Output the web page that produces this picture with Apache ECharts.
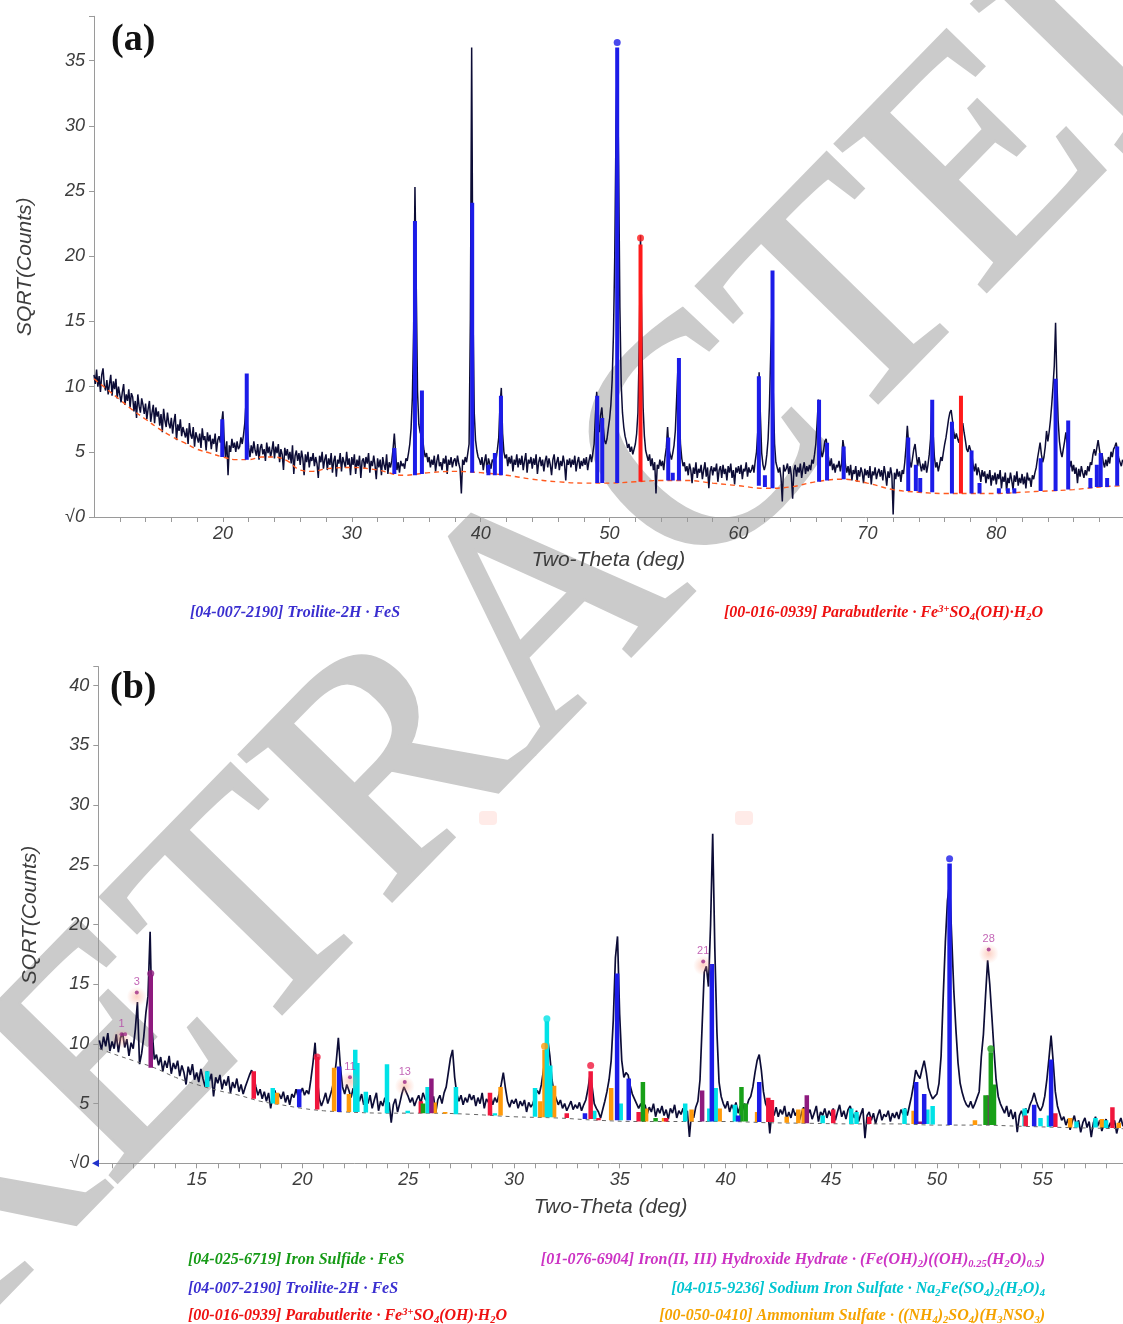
<!DOCTYPE html>
<html>
<head>
<meta charset="utf-8">
<script src="https://cdn.jsdelivr.net/npm/echarts@6/dist/echarts.min.js"></script>
<style>
  html, body { margin: 0; padding: 0; background: #fff; }
  #chart { width: 1123px; height: 1324px; }
</style>
</head>
<body>
<div id="chart"></div>
<script>
// ---------- panel (a) ----------
// measured trace, sqrt(counts), one value every 0.1 deg from 10.0
const traceAStart = 10.0;
const traceAStep = 0.1;
const traceA = [
  10.9, 10.2, 11.3, 10.0, 10.8, 9.6, 10.9, 11.4, 10.1, 9.7,
  10.5, 9.4, 10.2, 10.9, 9.3, 10.4, 9.8, 10.6, 9.1, 10.0,
  9.9, 8.8, 9.6, 10.2, 8.6, 9.4, 8.9, 9.8, 8.4, 9.5,
  9.2, 8.1, 8.9, 7.6, 9.4, 8.5, 8.0, 9.1, 8.6, 7.9,
  8.7, 7.5, 8.3, 8.9, 7.3, 8.0, 8.6, 7.2, 8.4, 7.7,
  8.1, 7.0, 7.9, 6.5, 8.3, 7.4, 6.9, 8.0, 7.2, 6.8,
  7.6, 6.4, 7.3, 7.9, 5.9, 7.1, 6.6, 7.5, 6.2, 6.9,
  7.0, 6.1, 6.8, 5.6, 7.2, 6.3, 6.0, 6.9, 5.4, 6.5,
  6.6, 5.7, 6.4, 5.3, 6.8, 5.9, 6.2, 5.1, 6.5, 5.8,
  6.3, 5.2, 6.0, 5.6, 6.4, 5.0, 5.9, 6.2, 5.7, 7.2,
  8.1, 5.9, 4.6, 5.8, 3.2, 5.5, 5.0, 6.0, 5.3, 5.7,
  5.0, 5.8, 5.2, 5.4, 6.1, 5.6, 6.3, 7.2, 8.9, 7.0,
  5.3, 4.6, 5.5, 4.9, 5.8, 5.1, 4.7, 5.6, 4.4, 5.3,
  5.6, 4.8, 5.2, 4.3, 5.7, 4.9, 5.4, 4.6, 5.1, 5.8,
  4.5, 5.4, 4.9, 5.6, 4.2, 5.2, 4.8, 3.6, 5.3, 4.7,
  5.2, 4.4, 5.0, 4.1, 5.5, 3.3, 4.7, 5.1, 4.3, 4.9,
  4.0, 5.1, 4.5, 3.2, 4.8, 4.2, 5.0, 3.8, 4.6, 4.3,
  4.9, 3.9, 4.6, 4.1, 3.0, 4.7, 4.2, 5.0, 3.7, 4.4,
  4.8, 3.6, 4.5, 4.0, 4.9, 3.4, 4.3, 4.7, 3.1, 4.4,
  4.1, 4.9, 3.5, 4.6, 4.2, 3.8, 5.0, 4.0, 4.5, 3.2,
  4.6, 4.0, 4.8, 3.3, 4.4, 3.9, 4.7, 3.0, 4.3, 4.5,
  3.7, 4.6, 4.1, 4.9, 3.4, 4.3, 3.9, 4.7, 4.0, 2.9,
  4.5, 3.8, 4.4, 3.2, 4.6, 4.0, 3.6, 4.8, 3.3, 4.2,
  3.8, 4.3, 5.2, 6.4, 4.9, 3.6, 4.2, 3.4, 4.3, 3.9,
  4.1, 3.7, 4.5, 4.3, 4.9, 5.6, 6.8, 9.2, 14.5, 25.3,
  17.8, 9.6, 7.1, 6.5, 6.5, 6.0, 5.1, 4.6, 4.9, 4.2,
  4.6, 3.8, 4.4, 4.0, 4.7, 3.5, 4.3, 4.8, 3.9, 4.2,
  3.6, 4.5, 4.1, 4.7, 3.3, 4.4, 4.0, 4.6, 3.8, 4.3,
  4.5, 3.9, 4.7, 4.1, 3.7, 1.8, 4.4, 4.0, 4.6, 4.2,
  4.9, 5.6, 15.2, 36.0, 16.0, 8.0, 5.9, 5.1, 4.6, 4.4,
  4.0, 4.6, 3.6, 4.3, 4.8, 3.4, 4.5, 4.1, 3.7, 4.4,
  4.2, 4.9, 4.5, 5.2, 6.1, 8.6, 9.9, 6.4, 5.0, 4.5,
  4.8, 3.9, 4.6, 4.1, 4.7, 3.5, 4.4, 4.0, 4.8, 3.8,
  4.5, 4.0, 4.7, 3.6, 4.3, 4.9, 3.4, 4.4, 4.1, 4.6,
  3.7, 4.5, 4.0, 4.8, 3.3, 4.2, 4.6, 3.9, 4.4, 3.5,
  4.3, 4.7, 3.8, 4.5, 4.0, 3.2, 4.4, 4.8, 3.7, 4.2,
  4.6, 3.6, 4.3, 3.9, 4.7, 4.1, 2.8, 4.4, 4.0, 4.5,
  3.8, 4.4, 4.0, 4.7, 3.5, 4.2, 4.6, 3.7, 4.3, 3.9,
  4.5, 4.0, 4.6, 3.6, 4.3, 4.8, 4.2, 4.9, 5.6, 7.8,
  9.6, 7.2, 6.5, 7.8, 8.4, 7.0, 5.9, 5.6, 6.0, 6.8,
  7.5, 8.6, 10.5, 14.0, 20.0, 30.0, 35.6, 27.0, 16.0, 10.2,
  8.0, 6.9, 6.2, 5.8, 5.3, 5.6, 5.0, 5.4, 4.8, 5.2,
  5.6, 6.4, 8.0, 13.0, 21.6, 14.0, 8.4, 6.2, 5.1, 4.7,
  4.3, 4.8, 3.9, 4.5, 3.6, 4.2, 1.8, 4.0, 3.7, 4.4,
  3.9, 4.3, 3.6, 4.6, 5.3, 6.9, 5.2, 4.8, 4.4, 4.9,
  5.5, 6.6, 9.0, 11.4, 8.2, 5.6, 4.5, 3.9, 4.2, 3.5,
  3.9, 3.2, 4.1, 3.6, 2.6, 3.8, 3.3, 4.2, 3.0, 3.7,
  3.4, 4.0, 2.9, 3.6, 4.2, 3.1, 3.8, 2.2, 3.5, 3.9,
  3.2, 3.8, 3.5, 4.1, 2.7, 3.6, 3.9, 3.0, 4.0, 3.3,
  3.7, 2.8, 3.9, 3.4, 4.1, 3.0, 3.6, 2.5, 3.8, 3.4,
  3.9, 3.3, 4.0, 2.9, 3.7, 3.5, 4.2, 3.1, 3.8, 3.4,
  3.6, 4.0, 3.4, 4.3, 5.0, 6.6, 11.1, 7.8, 4.9, 4.0,
  3.6, 4.0, 4.8, 6.0, 8.5, 12.5, 16.0, 9.5, 5.6, 4.2,
  4.2, 3.4, 3.8, 3.0, 1.2, 4.0, 3.5, 3.7, 4.1, 3.3,
  3.9, 3.2, 1.4, 3.6, 4.0, 3.1, 3.8, 3.4, 4.1, 3.0,
  3.7, 4.2, 3.3, 3.9, 3.5, 4.0, 3.6, 4.4, 4.1, 4.8,
  5.6, 7.2, 9.0, 7.0, 5.0, 4.6, 5.1, 5.8, 6.0, 5.2,
  4.4, 3.9, 4.5, 3.6, 4.1, 3.4, 4.0, 3.8, 4.3, 3.5,
  4.1, 5.9, 5.2, 4.0, 3.4, 3.9, 3.2, 4.0, 2.8, 3.6,
  3.3, 3.9, 2.7, 3.6, 3.1, 3.8, 3.4, 2.6, 3.7, 3.2,
  3.6, 3.0, 3.9, 2.5, 3.5, 3.2, 3.8, 2.9, 3.4, 3.7,
  3.1, 3.6, 2.8, 3.9, 3.3, 2.4, 3.5, 3.0, 3.8, 3.2,
  0.2, 3.4, 2.9, 3.7, 3.1, 3.5, 2.7, 3.6, 3.3, 4.2,
  5.4, 7.0, 5.6, 4.2, 3.8, 4.5, 5.2, 5.6, 4.7, 3.9,
  4.6, 4.0, 3.5, 4.1, 3.6, 4.3, 3.4, 4.0, 4.8, 6.0,
  8.7, 6.4, 4.6, 3.8, 4.2, 3.5, 4.0, 4.6, 4.3, 5.0,
  5.6, 6.1, 6.8, 7.5, 8.0, 8.2, 7.4, 6.5, 6.0, 6.4,
  6.0, 5.7, 6.4, 7.0, 7.2, 6.5, 5.9, 5.2, 5.0, 5.5,
  5.5, 4.8, 4.0, 3.5, 4.1, 3.2, 3.8, 3.4, 2.7, 3.6,
  3.1, 3.5, 2.6, 3.3, 2.9, 3.6, 2.4, 3.2, 2.8, 3.4,
  2.5, 3.3, 2.9, 3.6, 2.2, 3.1, 2.7, 3.4, 2.0, 3.0,
  2.6, 3.4, 2.8, 2.1, 3.2, 2.7, 3.5, 2.4, 3.0, 2.6,
  3.3, 2.5, 3.1, 2.2, 3.4, 2.8, 3.0, 2.3, 3.2, 2.9,
  3.4, 3.8, 4.5, 5.1, 5.7, 4.8, 4.2, 4.6, 5.4, 6.6,
  5.8, 6.5, 7.4, 8.6, 10.0, 11.6, 14.9, 10.5, 7.4, 5.8,
  5.0, 4.6, 5.2, 5.8, 6.5, 5.6, 4.5, 3.8, 4.3, 3.5,
  4.0, 3.3, 3.8, 2.6, 3.7, 3.1, 3.9, 3.4, 3.0, 3.6,
  3.2, 3.9, 3.5, 4.2, 4.0, 4.8, 5.2, 4.7, 5.3, 5.9,
  5.2, 4.5, 4.9, 4.2, 3.8, 4.4, 3.9, 4.6, 4.1, 5.0,
  4.6, 5.2, 5.4, 5.7, 5.1, 4.5, 4.2, 3.9, 4.4
];
// fitted background (dashed)
const bgAX = [10, 11, 12, 13, 14, 15, 16, 17, 18, 19, 20, 21, 22, 23, 24, 25, 26, 27, 28, 30, 32, 34, 36, 38, 40, 42, 44, 46, 48, 50, 52, 54, 56, 58, 60, 62, 64, 66, 68, 70, 72, 74, 76, 78, 80, 82, 84, 86, 88, 89.8];
const bgAY = [10.6, 9.8, 9.0, 8.2, 7.5, 6.8, 6.2, 5.7, 5.2, 4.9, 4.6, 4.4, 4.4, 4.6, 4.6, 4.3, 3.6, 3.5, 3.7, 3.8, 3.6, 3.2, 3.4, 3.5, 3.4, 3.2, 2.9, 2.7, 2.6, 2.6, 2.7, 2.8, 2.8, 2.6, 2.4, 2.2, 2.3, 2.7, 2.9, 2.6, 2.1, 1.9, 1.8, 1.8, 1.8, 1.9, 2.0, 2.1, 2.3, 2.4];
// reference lines [2theta, base, top]
const troiliteA = [
  [19.95, 4.6, 7.5], [21.85, 4.4, 11.0], [33.3, 3.3, 5.3], [34.9, 3.2, 22.7], [35.44, 3.3, 9.7],
  [39.34, 3.4, 24.1], [40.6, 3.2, 4.0], [41.1, 3.2, 4.9], [41.57, 3.2, 9.3], [49.04, 2.6, 9.3],
  [49.43, 2.6, 7.6], [50.59, 2.6, 36.0], [54.55, 2.8, 6.1], [54.9, 2.8, 3.4], [55.38, 2.8, 12.2],
  [61.58, 2.4, 10.8], [62.05, 2.3, 3.2], [62.64, 2.2, 18.9], [66.25, 2.7, 9.0], [66.87, 2.8, 5.7],
  [68.16, 2.9, 5.4], [73.17, 2.0, 6.1], [73.76, 2.0, 4.0], [74.1, 1.9, 3.0], [75.03, 1.9, 9.0],
  [76.56, 1.8, 7.3], [78.08, 1.8, 5.1], [78.7, 1.8, 2.6], [80.2, 1.8, 2.2], [80.9, 1.8, 2.2],
  [81.4, 1.8, 2.2], [83.44, 2.0, 4.5], [84.6, 2.0, 10.6], [85.58, 2.1, 7.4], [87.3, 2.2, 3.0],
  [87.8, 2.3, 4.0], [88.1, 2.3, 4.9], [88.6, 2.3, 3.0], [89.38, 2.4, 5.4]
];
const parabutleriteA = [[52.4, 2.7, 20.9], [77.26, 1.8, 9.3]];
const troiliteDotA = [[50.59, 36.4]];
const parabutleriteDotA = [[52.4, 21.4]];
const xTicksA = [12, 14, 16, 18, 20, 22, 24, 26, 28, 30, 32, 34, 36, 38, 40, 42, 44, 46, 48, 50, 52, 54, 56, 58, 60, 62, 64, 66, 68, 70, 72, 74, 76, 78, 80, 82, 84, 86, 88];
const xLabelsA = [20, 30, 40, 50, 60, 70, 80];
const yTicksA = [0, 5, 10, 15, 20, 25, 30, 35, 38.4];
const yLabelsA = [0, 5, 10, 15, 20, 25, 30, 35];

// ---------- panel (b) ----------
const traceBStart = 10.4;
const traceBStep = 0.1;
const traceB = [
  10.3, 9.5, 10.6, 9.8, 10.9, 9.4,
  10.2, 9.6, 10.8, 9.3, 10.5, 10.9, 9.7, 10.4, 9.0, 10.1,
  9.6, 11.2, 13.5, 8.3, 9.2, 10.6, 12.6, 14.0, 19.4, 11.0,
  8.7, 9.1, 8.2, 8.9, 7.7, 8.6, 8.0, 9.0, 7.5, 8.4,
  7.9, 8.6, 7.3, 8.2, 7.6, 6.6, 8.1, 7.4, 8.3, 7.0,
  7.6, 6.8, 7.9, 7.1, 6.4, 7.7, 6.9, 7.5, 5.6, 7.2,
  6.7, 7.4, 6.2, 7.0, 6.5, 7.3, 5.9, 6.8, 6.3, 7.1,
  6.0, 6.6, 5.8, 6.4, 6.9, 7.4, 7.8, 7.3, 6.4, 5.7,
  6.2, 5.4, 6.0, 5.2, 5.9, 4.6, 5.7, 6.1, 5.3, 5.8,
  5.4, 6.0, 5.1, 5.7, 4.9, 5.8, 5.5, 6.2, 5.6, 5.9,
  6.3, 5.7, 6.1, 5.8, 7.0, 8.4, 10.1, 7.2, 5.4, 4.8,
  5.3, 5.9, 5.0, 5.6, 6.2, 7.0, 8.5, 10.5, 8.0, 6.4,
  5.8, 6.6, 6.1, 5.5, 6.3, 5.4, 6.0, 5.2, 5.8, 4.9,
  5.6, 5.0, 5.7, 4.6, 5.3, 5.9, 4.4, 5.2, 4.8, 5.5,
  4.5, 5.1, 3.4, 4.9, 5.4, 4.3, 5.0, 5.8, 6.4, 6.0,
  5.6, 5.1, 5.5, 4.8, 5.3, 5.7, 5.0, 5.9, 5.4, 5.2,
  5.8, 5.1, 5.6, 4.2, 5.3, 5.7, 5.0, 5.9, 6.4, 7.6,
  8.8, 9.5, 7.2, 5.8, 5.2, 5.7, 4.9, 5.5, 5.1, 5.8,
  5.3, 5.7, 4.8, 5.5, 5.0, 5.9, 4.6, 5.4, 5.1, 5.6,
  4.9, 5.5, 5.1, 5.8, 6.6, 7.6, 6.3, 5.2, 4.7, 5.3,
  5.0, 5.4, 4.6, 5.2, 4.8, 5.3, 4.3, 5.1, 4.7, 5.0,
  5.6, 6.1, 5.8, 6.6, 7.8, 9.2, 10.4, 9.0, 7.0, 5.9,
  5.4, 4.9, 5.3, 4.6, 5.0, 4.4, 4.8, 5.2, 4.5, 4.9,
  4.6, 5.1, 4.4, 4.9, 5.3, 6.2, 7.4, 6.4, 5.0, 4.6,
  4.3, 3.8, 4.5, 5.2, 6.0, 7.0, 8.6, 12.0, 17.2, 19.0,
  12.5, 8.6, 7.2, 7.6, 7.4, 6.5, 5.8, 5.4, 5.0, 4.6,
  5.0, 4.4, 4.9, 4.1, 4.7, 4.3, 5.0, 3.9, 4.6, 4.2,
  4.8, 4.0, 4.5, 3.7, 4.6, 4.2, 4.9, 3.8, 4.4, 4.1,
  4.6, 3.9, 4.4, 2.2, 4.3, 3.8, 4.7, 5.2, 7.0, 11.5,
  16.0, 16.5, 14.8, 20.0, 27.6, 18.0, 11.0, 6.8, 5.6, 5.0,
  4.6, 5.2, 4.3, 4.9, 4.5, 5.1, 4.2, 4.8, 4.4, 5.0,
  4.7, 5.3, 5.6, 6.4, 7.6, 8.6, 9.1, 7.8, 6.0, 5.0,
  4.6, 2.5, 4.4, 4.0, 4.7, 3.9, 4.5, 4.1, 4.8, 3.7,
  4.3, 3.8, 4.6, 4.0, 4.4, 3.6, 4.2, 4.7, 3.9, 4.1,
  4.5, 3.7, 4.2, 4.8, 3.5, 4.3, 4.0, 4.6, 3.8, 4.4,
  4.0, 4.6, 3.6, 4.3, 4.9, 3.9, 4.4, 3.7, 4.5, 4.8,
  4.2, 3.8, 4.4, 3.5, 4.1, 4.6, 2.1, 4.0, 4.3, 3.6,
  4.2, 3.3, 4.0, 4.5, 3.6, 4.1, 3.9, 4.4, 3.5, 4.2,
  3.8, 4.3, 3.7, 4.5, 4.1, 4.6, 4.0, 4.8, 5.6, 6.6,
  7.8, 7.4, 7.1, 7.9, 8.6, 7.6, 6.3, 5.8, 5.4, 5.6,
  5.8, 6.7, 9.0, 14.0, 18.5, 22.0, 23.5, 19.0, 14.5, 11.2,
  8.4, 6.7, 5.9, 5.3, 4.9, 4.7, 5.2, 4.6, 5.0, 5.5,
  6.0, 8.9, 10.8, 14.0, 17.0, 15.0, 12.3, 9.5, 7.0, 5.6,
  5.0, 4.6, 4.2, 4.8, 3.9, 4.5, 3.7, 4.3, 2.6, 4.0,
  4.4, 3.9, 4.6, 4.2, 4.9, 5.3, 5.9, 5.2, 4.7, 4.4,
  4.8, 5.6, 7.0, 8.8, 10.7, 8.5, 6.0, 4.8, 4.2, 3.6,
  3.9, 3.2, 3.7, 2.8, 3.5, 4.0, 3.1, 3.6, 2.6, 3.4,
  3.8, 3.0, 3.5, 2.2, 3.4, 3.9, 3.1, 3.6, 2.7, 3.3,
  3.7, 2.9, 3.4, 3.0, 3.6, 2.5, 3.3, 3.8, 3.1
];
const bgBX = [10.4, 11, 12, 13, 14, 15, 16, 17, 18, 19, 20, 21, 22, 24, 26, 28, 30, 32, 34, 36, 38, 40, 42, 44, 46, 48, 50, 52, 54, 56, 58.8];
const bgBY = [9.6, 9.2, 8.6, 8.0, 7.2, 6.6, 6.1, 5.7, 5.2, 4.9, 4.6, 4.4, 4.3, 4.2, 4.2, 4.1, 3.9, 3.8, 3.6, 3.5, 3.5, 3.5, 3.4, 3.35, 3.3, 3.3, 3.2, 3.2, 3.1, 3.0, 2.9];
const ironSulfideB = [
  [25.7, 4.2, 5.0], [36.1, 3.5, 6.8], [36.7, 3.5, 3.8], [40.76, 3.5, 6.4], [40.96, 3.5, 5.0],
  [52.3, 3.2, 5.7], [52.55, 3.2, 9.3], [52.7, 3.2, 6.6]
];
const troiliteB = [
  [19.85, 4.7, 6.2], [21.74, 4.3, 8.1], [33.36, 3.7, 4.2], [34.88, 3.6, 15.9], [35.43, 3.6, 7.1],
  [39.36, 3.5, 16.7], [40.6, 3.5, 4.0], [41.6, 3.45, 6.8], [49.02, 3.3, 6.8], [49.4, 3.3, 5.8],
  [50.6, 3.2, 25.1], [54.6, 3.1, 4.9], [55.4, 3.1, 8.7]
];
const parabutleriteB = [
  [17.7, 5.4, 7.7], [20.7, 4.5, 8.9], [25.6, 4.2, 5.2], [28.87, 4.0, 5.9], [32.5, 3.8, 4.2],
  [33.63, 3.7, 7.7], [34.0, 3.6, 3.8], [35.9, 3.5, 4.3], [37.2, 3.5, 3.8], [42.03, 3.45, 5.5],
  [42.2, 3.45, 5.3], [45.1, 3.35, 4.5], [46.8, 3.3, 3.9], [54.2, 3.1, 4.0], [55.6, 3.05, 4.2],
  [58.3, 2.95, 4.7]
];
const hydroxideB = [
  [12.83, 8.0, 15.8], [26.1, 4.2, 7.1], [38.9, 3.5, 6.1], [43.85, 3.35, 5.7], [49.2, 3.3, 3.5],
  [52.45, 3.2, 5.7]
];
const sodiumSulfateB = [
  [15.5, 6.4, 7.7], [18.6, 5.0, 6.3], [22.5, 4.3, 9.5], [22.6, 4.3, 8.4], [23.0, 4.25, 6.0],
  [24.0, 4.2, 8.3], [24.98, 4.2, 4.4], [25.92, 4.2, 6.4], [27.26, 4.1, 6.4], [29.1, 4.0, 4.2],
  [31.0, 3.9, 6.3], [31.56, 3.85, 11.9], [31.72, 3.85, 8.2], [33.8, 3.7, 4.4], [35.05, 3.6, 5.0],
  [38.1, 3.5, 5.0], [39.24, 3.5, 4.6], [39.54, 3.5, 6.3], [40.45, 3.5, 4.9], [44.6, 3.35, 4.0],
  [45.95, 3.3, 4.6], [46.2, 3.3, 4.3], [48.47, 3.3, 4.6], [49.55, 3.3, 4.5], [49.8, 3.25, 4.8],
  [54.15, 3.1, 4.6], [54.9, 3.1, 3.8], [55.3, 3.05, 4.0], [56.6, 3.0, 3.5], [57.5, 3.0, 3.8],
  [58.0, 2.95, 3.6]
];
const ammoniumSulfateB = [
  [18.8, 4.95, 5.9], [21.5, 4.35, 8.0], [22.2, 4.3, 5.8], [26.25, 4.2, 5.1], [26.75, 4.15, 4.3],
  [29.37, 4.0, 6.4], [31.25, 3.85, 5.2], [31.45, 3.85, 9.5], [31.9, 3.85, 6.5], [34.6, 3.6, 6.3],
  [36.25, 3.5, 4.6], [37.1, 3.5, 3.8], [38.4, 3.5, 4.5], [39.73, 3.5, 4.6], [41.5, 3.45, 4.3],
  [42.9, 3.4, 3.9], [43.45, 3.35, 4.5], [43.7, 3.35, 4.6], [48.9, 3.3, 4.4], [51.8, 3.2, 3.6],
  [56.3, 3.0, 3.8], [57.8, 3.0, 3.7], [58.6, 2.95, 3.4]
];
const topDotsB = {
  green: [[52.55, 9.6]],
  blue: [[50.6, 25.5]],
  red: [[20.7, 8.9], [33.63, 8.2]],
  purple: [[12.83, 15.9]],
  cyan: [[31.56, 12.1]],
  orange: [[31.45, 9.8]]
};
// numbered peak marks [2theta, y, label]
const peakMarksB = [[11.45, 10.8, '1'], [12.17, 14.3, '3'], [22.25, 7.2, '11'], [24.84, 6.8, '13'], [38.95, 16.9, '21'], [52.45, 17.9, '28']];
const extraPeakDotsB = [[11.62, 10.8]];
const xTicksB = [11, 12, 13, 14, 15, 16, 17, 18, 19, 20, 21, 22, 23, 24, 25, 26, 27, 28, 29, 30, 31, 32, 33, 34, 35, 36, 37, 38, 39, 40, 41, 42, 43, 44, 45, 46, 47, 48, 49, 50, 51, 52, 53, 54, 55, 56, 57, 58];
const xLabelsB = [15, 20, 25, 30, 35, 40, 45, 50, 55];
const yTicksB = [0, 5, 10, 15, 20, 25, 30, 35, 40, 41.6];
const yLabelsB = [0, 5, 10, 15, 20, 25, 30, 35, 40];

const C = {
  green: '#18a018', blue: '#1c1ce8', red: '#f0163c', purple: '#8e1a7e',
  cyan: '#00e2e6', orange: '#ff9a0a', trace: '#0c0c36'
};

const stepSeries = (vals, start, step) => vals.map((v, i) => [+(start + i * step).toFixed(2), v]);
const zip = (xs, ys) => xs.map((x, i) => [x, ys[i]]);

function barSeries(data, color, w, idx) {
  return {
    type: 'custom', xAxisIndex: idx, yAxisIndex: idx, data, clip: true, z: 4, silent: true,
    encode: { x: 0, y: [1, 2] },
    renderItem(params, api) {
      const p0 = api.coord([api.value(0), api.value(1)]);
      const p1 = api.coord([api.value(0), api.value(2)]);
      return { type: 'rect', shape: { x: p0[0] - w / 2, y: p1[1], width: w, height: p0[1] - p1[1] }, style: { fill: color } };
    }
  };
}
function dotSeries(data, color, idx) {
  return { type: 'scatter', xAxisIndex: idx, yAxisIndex: idx, data, symbolSize: 7, z: 5, silent: true, itemStyle: { color } };
}

const axisFont = { fontFamily: 'Liberation Sans', fontStyle: 'italic', color: '#3d3d3d' };
function xAxis(idx, min, max, ticks, labels) {
  return {
    type: 'value', gridIndex: idx, min, max,
    name: 'Two-Theta (deg)', nameLocation: 'middle', nameGap: 33,
    nameTextStyle: Object.assign({ fontSize: 21 }, axisFont),
    axisLine: { lineStyle: { color: '#9a9a9a', width: 1 } },
    axisTick: { length: 5, lineStyle: { color: '#9a9a9a' }, customValues: ticks },
    axisLabel: Object.assign({ fontSize: 18, margin: 8, customValues: labels }, axisFont),
    splitLine: { show: false }
  };
}
function yAxis(idx, max, ticks, labels) {
  return {
    type: 'value', gridIndex: idx, min: 0, max,
    name: 'SQRT(Counts)', nameLocation: 'middle', nameGap: 58,
    nameTextStyle: Object.assign({ fontSize: 21 }, axisFont),
    axisLine: { show: true, lineStyle: { color: '#9a9a9a', width: 1 } },
    axisTick: { show: true, length: 5, lineStyle: { color: '#9a9a9a' }, customValues: ticks },
    axisLabel: Object.assign({ fontSize: 18, margin: 9, customValues: labels, formatter: v => (v === 0 ? '√0' : String(v)) }, axisFont),
    splitLine: { show: false }
  };
}

function legendText(text, color, x, y, align) {
  const base = { fontFamily: 'Liberation Serif', fontStyle: 'italic', fontWeight: 'bold', fill: color };
  return {
    type: 'text', x, y, z: 10,
    style: Object.assign({
      text, fontSize: 16, lineHeight: 19, align, verticalAlign: 'middle',
      rich: {
        sub: Object.assign({ fontSize: 10.5, lineHeight: 8, verticalAlign: 'bottom' }, base),
        sup: Object.assign({ fontSize: 10.5, lineHeight: 8, verticalAlign: 'top' }, base)
      }
    }, base)
  };
}

const legParab = '[00-016-0939] Parabutlerite · Fe{sup|3+}SO{sub|4}(OH)·H{sub|2}O';
const legTroil = '[04-007-2190] Troilite-2H · FeS';

const chart = echarts.init(document.getElementById('chart'));
chart.setOption({
  backgroundColor: '#fff',
  animation: false,
  grid: [
    { left: 94, top: 16.3, width: 1028.6, height: 500.7 },
    { left: 98.3, top: 666.6, width: 1025.4, height: 496.7 }
  ],
  xAxis: [
    xAxis(0, 10, 89.8, xTicksA, xLabelsA),
    xAxis(1, 10.35, 58.8, xTicksB, xLabelsB)
  ],
  yAxis: [
    yAxis(0, 38.4, yTicksA, yLabelsA),
    yAxis(1, 41.6, yTicksB, yLabelsB)
  ],
  graphic: [
    {
      type: 'text', x: 560, y: 607, rotation: 45.7 * Math.PI / 180, z: -10, silent: true,
      style: { text: 'RETRACTED', fontFamily: 'Liberation Serif', fontSize: 320, fill: '#cbcbcb', align: 'center', verticalAlign: 'middle',
        stroke: '#cbcbcb', lineWidth: 5 }
    },
    { type: 'text', x: 111, y: 40, z: 10, style: { text: '(a)', fontFamily: 'Liberation Serif', fontWeight: 'bold', fontSize: 38, fill: '#111', verticalAlign: 'middle' } },
    { type: 'text', x: 110, y: 688, z: 10, style: { text: '(b)', fontFamily: 'Liberation Serif', fontWeight: 'bold', fontSize: 38, fill: '#111', verticalAlign: 'middle' } },
    { type: 'rect', x: 479, y: 811, z: -5, shape: { width: 18, height: 14, r: 4 }, style: { fill: 'rgba(255,215,210,0.5)' } },
    { type: 'rect', x: 735, y: 811, z: -5, shape: { width: 18, height: 14, r: 4 }, style: { fill: 'rgba(255,215,210,0.5)' } },
    { type: 'polygon', z: 10, shape: { points: [[92, 1163.3], [99, 1159.5], [99, 1167]] }, style: { fill: '#2233cc' } },
    legendText(legTroil, '#3a2fd0', 190, 613, 'left'),
    legendText(legParab, '#ee1111', 1043, 613, 'right'),
    legendText('[04-025-6719] Iron Sulfide · FeS', '#169a16', 188, 1260, 'left'),
    legendText(legTroil, '#3a2fd0', 188, 1289, 'left'),
    legendText(legParab, '#ee1111', 188, 1316, 'left'),
    legendText('[01-076-6904] Iron(II, III) Hydroxide Hydrate · (Fe(OH){sub|2})((OH){sub|0.25}(H{sub|2}O){sub|0.5})', '#cc33c4', 1045, 1260, 'right'),
    legendText('[04-015-9236] Sodium Iron Sulfate · Na{sub|2}Fe(SO{sub|4}){sub|2}(H{sub|2}O){sub|4}', '#00c4d0', 1045, 1289, 'right'),
    legendText('[00-050-0410] Ammonium Sulfate · ((NH{sub|4}){sub|2}SO{sub|4})(H{sub|3}NSO{sub|3})', '#f5a300', 1045, 1316, 'right')
  ],
  series: [
    // panel (a)
    { type: 'line', xAxisIndex: 0, yAxisIndex: 0, data: stepSeries(traceA, traceAStart, traceAStep), showSymbol: false, silent: true, z: 2,
      lineStyle: { color: C.trace, width: 1.5 } },
    barSeries(troiliteA, C.blue, 4, 0),
    barSeries(parabutleriteA, '#ff1a1a', 4, 0),
    { type: 'line', xAxisIndex: 0, yAxisIndex: 0, data: zip(bgAX, bgAY), smooth: 0.4, showSymbol: false, silent: true, z: 3,
      lineStyle: { color: '#ff5a1f', width: 1.4, type: [5, 4] } },
    dotSeries(troiliteDotA, C.blue, 0),
    dotSeries(parabutleriteDotA, '#ff1a1a', 0),
    // panel (b)
    { type: 'line', xAxisIndex: 1, yAxisIndex: 1, data: stepSeries(traceB, traceBStart, traceBStep), showSymbol: false, silent: true, z: 2,
      lineStyle: { color: C.trace, width: 1.7 } },
    { type: 'line', xAxisIndex: 1, yAxisIndex: 1, data: zip(bgBX, bgBY), smooth: 0.4, showSymbol: false, silent: true, z: 3,
      lineStyle: { color: '#666', width: 1, type: [4, 4] } },
    barSeries(ammoniumSulfateB, C.orange, 4.5, 1),
    barSeries(sodiumSulfateB, C.cyan, 4.5, 1),
    barSeries(parabutleriteB, C.red, 4.5, 1),
    barSeries(hydroxideB, C.purple, 4.5, 1),
    barSeries(ironSulfideB, C.green, 4.5, 1),
    barSeries(troiliteB, C.blue, 4.5, 1),
    dotSeries(topDotsB.orange, C.orange, 1),
    dotSeries(topDotsB.cyan, C.cyan, 1),
    dotSeries(topDotsB.red, C.red, 1),
    dotSeries(topDotsB.purple, C.purple, 1),
    dotSeries(topDotsB.green, C.green, 1),
    dotSeries(topDotsB.blue, C.blue, 1),
    {
      type: 'scatter', xAxisIndex: 1, yAxisIndex: 1, silent: true, z: 6, symbolSize: 20, symbolOffset: [0, 4],
      data: peakMarksB.map(p => [p[0], p[1]]),
      itemStyle: { color: new echarts.graphic.RadialGradient(0.5, 0.5, 0.5, [
        { offset: 0, color: 'rgba(250,150,120,0.55)' }, { offset: 1, color: 'rgba(250,150,120,0)' }]) }
    },
    {
      type: 'scatter', xAxisIndex: 1, yAxisIndex: 1, silent: true, z: 7, symbolSize: 4,
      data: peakMarksB.map(p => ({ value: [p[0], p[1]], name: p[2] })),
      itemStyle: { color: '#a02a86' },
      label: { show: true, position: 'top', distance: 3, formatter: '{b}', color: '#b43fa4', fontSize: 11, fontFamily: 'Liberation Sans' }
    },
    { type: 'scatter', xAxisIndex: 1, yAxisIndex: 1, silent: true, z: 7, symbolSize: 4, data: extraPeakDotsB, itemStyle: { color: '#a02a86' } }
  ]
});
</script>
</body>
</html>
